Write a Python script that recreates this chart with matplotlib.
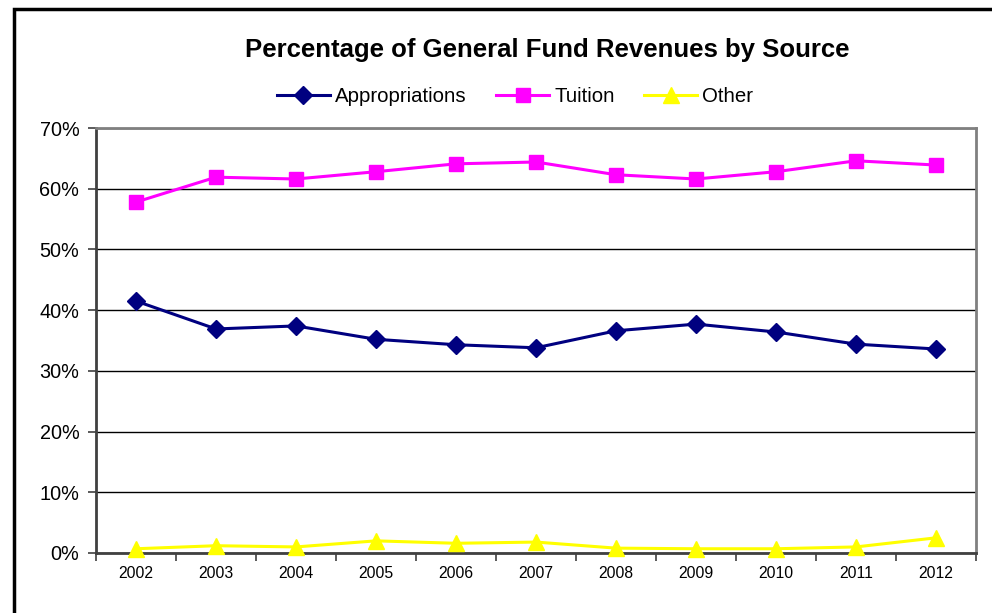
import matplotlib
matplotlib.use("Agg")
import matplotlib.pyplot as plt
from matplotlib.patches import Rectangle
from matplotlib.ticker import FuncFormatter, FixedLocator

plt.rcParams.update({
    "font.family": ["Liberation Sans", "DejaVu Sans"],
})

years = ["2002", "2003", "2004", "2005", "2006", "2007", "2008", "2009", "2010", "2011", "2012"]
appropriations = [41.5, 36.9, 37.4, 35.2, 34.3, 33.8, 36.6, 37.7, 36.4, 34.4, 33.6]
tuition = [57.8, 61.9, 61.6, 62.8, 64.1, 64.4, 62.3, 61.6, 62.8, 64.6, 63.9]
other = [0.7, 1.2, 1.0, 2.0, 1.6, 1.8, 0.8, 0.7, 0.7, 1.0, 2.5]

fig = plt.figure(figsize=(9.92, 6.13), dpi=100)
W, H = 992, 613
# plot area in pixels: left 96, right 976, top 128, bottom 553
ax = fig.add_axes([96 / W, 1 - 553 / H, (976 - 96) / W, (553 - 128) / H])

x = list(range(len(years)))
ax.plot(x, appropriations, color="#000080", lw=2.2, marker="D", ms=9.5,
        label="Appropriations", clip_on=False, zorder=3)
ax.plot(x, tuition, color="#FF00FF", lw=2.2, marker="s", ms=10,
        label="Tuition", clip_on=False, zorder=3)
ax.plot(x, other, color="#FFFF00", lw=2.2, marker="^", ms=11,
        label="Other", clip_on=False, zorder=3)

ax.set_xlim(-0.5, len(years) - 0.5)
ax.set_ylim(0, 70)
ax.set_yticks(range(0, 71, 10))
ax.yaxis.set_major_formatter(FuncFormatter(lambda v, p: f"{v:.0f}%"))
ax.set_xticks(x)
ax.set_xticklabels(years, fontsize=11.3)
ax.xaxis.set_minor_locator(FixedLocator([i - 0.5 for i in range(len(years) + 1)]))
ax.tick_params(axis="x", which="major", length=0, pad=9)
ax.tick_params(axis="x", which="minor", length=6, width=1.2, color="#404040", direction="out")
ax.tick_params(axis="y", length=6, width=1.2, color="#404040", labelsize=14.3, pad=6)

ax.grid(True, axis="y", color="black", lw=1)
ax.set_axisbelow(True)
for side in ["top", "right"]:
    ax.spines[side].set_color("#808080")
    ax.spines[side].set_linewidth(2)
for side in ["left", "bottom"]:
    ax.spines[side].set_color("#404040")
    ax.spines[side].set_linewidth(2)

fig.text(547 / W, 1 - 50 / H, "Percentage of General Fund Revenues by Source",
         ha="center", va="center", fontsize=18.5, fontweight="bold")

fig.legend(loc="center", bbox_to_anchor=(515 / W, 1 - 97 / H), ncol=3,
           frameon=False, fontsize=14.7, handlelength=2.6, handletextpad=0.25,
           columnspacing=1.45)

fig.patches.append(Rectangle((14 / W, -0.1), 1.2, 1 - 9 / H + 0.1,
                             transform=fig.transFigure, fill=False,
                             edgecolor="black", lw=2.5, clip_on=False))

fig.savefig("out.png", dpi=100)
